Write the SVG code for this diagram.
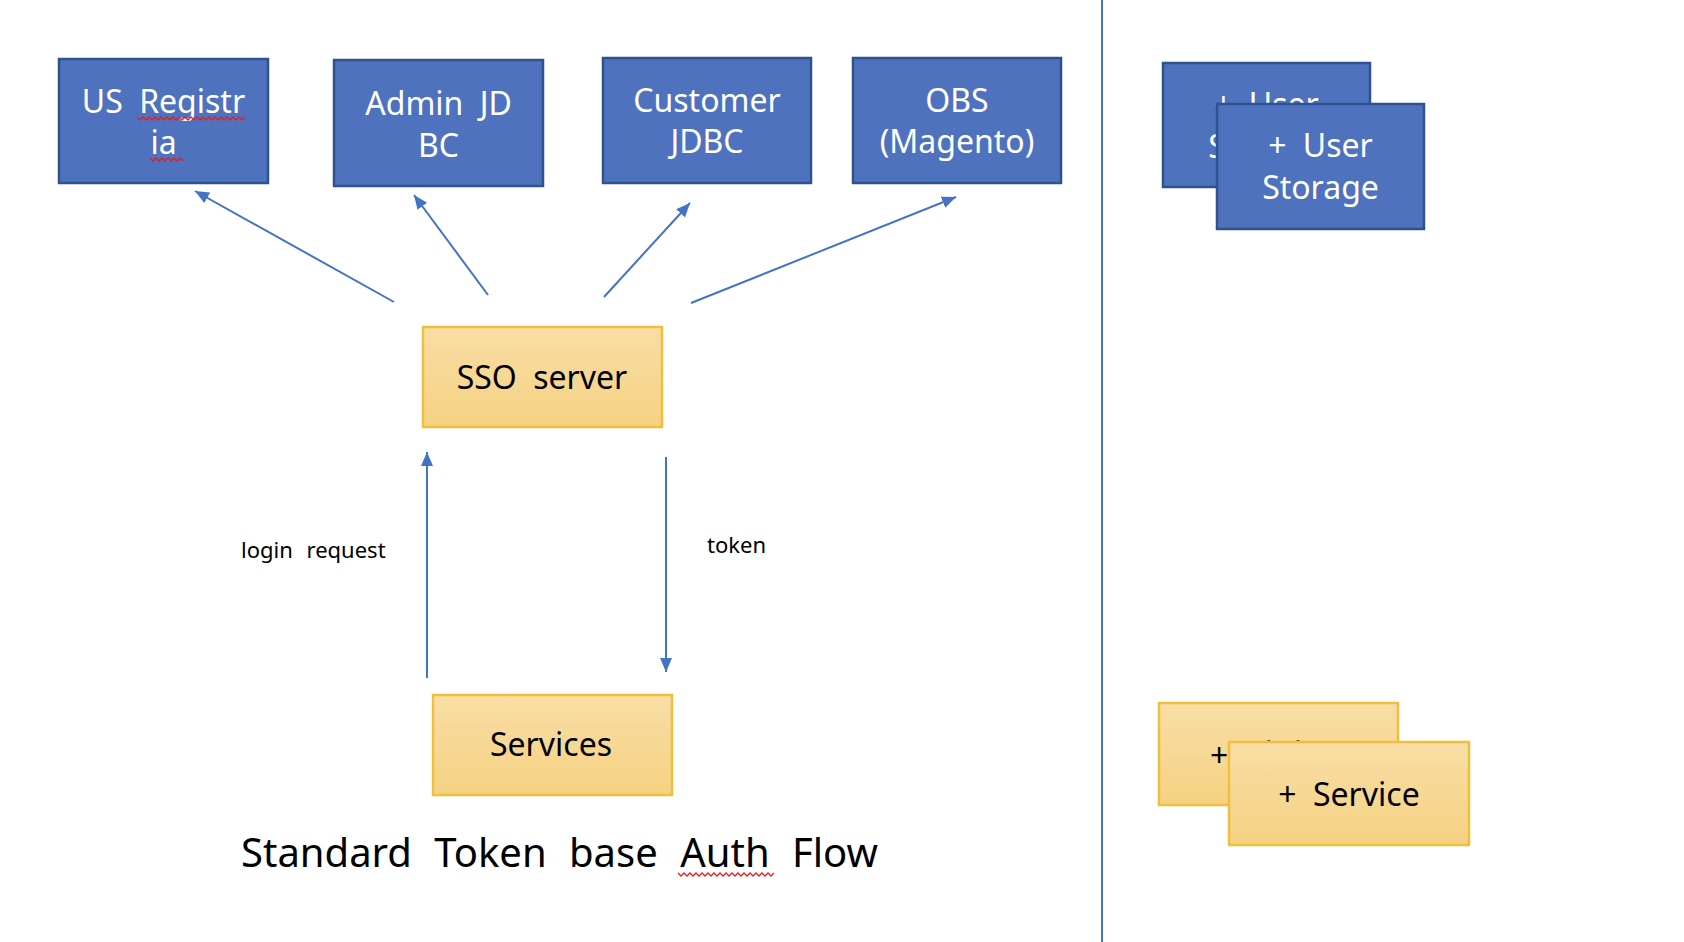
<svg xmlns="http://www.w3.org/2000/svg" width="1684" height="942" viewBox="0 0 1684 942">
<style>
.blue{fill:#4F72BE;stroke:#2F528F;stroke-width:2.5}
.yel{fill:url(#yg);stroke:#F2BF3C;stroke-width:2.5}
.wt{fill:#FFFFFF;font-family:"Noto Sans","Noto Sans CJK KR",sans-serif;font-size:32px;text-anchor:middle;word-spacing:8px}
.bt{fill:#000000;font-family:"Noto Sans","Noto Sans CJK KR",sans-serif;font-size:32px;text-anchor:middle;word-spacing:8px}
.sm{fill:#000000;font-family:"Noto Sans","Noto Sans CJK KR",sans-serif;font-size:22px;word-spacing:8px}
.ttl{fill:#000000;font-family:"Noto Sans","Noto Sans CJK KR",sans-serif;font-size:40px;word-spacing:12px}
.conn{stroke:#4472C4;stroke-width:2;fill:none;marker-end:url(#ah)}
.sq{stroke:#E02020;stroke-width:1.3;fill:none}
</style>
<defs>
<linearGradient id="yg" x1="0" y1="0" x2="0" y2="1">
<stop offset="0" stop-color="#F8DEA6"/>
<stop offset="1" stop-color="#F5D282"/>
</linearGradient>
<marker id="ah" markerUnits="userSpaceOnUse" markerWidth="16" markerHeight="14" refX="14" refY="6" orient="auto">
<path d="M0,0 L14,6 L0,12 Z" fill="#4472C4"/>
</marker>
</defs>
<rect width="1684" height="942" fill="#FFFFFF"/>
<line x1="1102" y1="0" x2="1102" y2="942" stroke="#4472C4" stroke-width="2"/>
<g id="us-registria">
<rect class="blue" x="59" y="59" width="209" height="124"/>
<text class="wt" x="163.5" y="113">US Registr</text>
<text class="wt" x="163.5" y="154">ia</text>
<path class="sq" d="M137,117 l3,3 l3,-3 l3,3 l3,-3 l3,3 l3,-3 l3,3 l3,-3 l3,3 l3,-3 l3,3 l3,-3 l3,3 l3,-3 l3,3 l3,-3 l3,3 l3,-3 l3,3 l3,-3 l3,3 l3,-3 l3,3 l3,-3 l3,3 l3,-3 l3,3 l3,-3 l3,3 l3,-3 l3,3 l3,-3 l3,3 l3,-3 l3,3 l3,-3"/>
<path class="sq" d="M150,158 l3,3 l3,-3 l3,3 l3,-3 l3,3 l3,-3 l3,3 l3,-3 l3,3 l3,-3 l3,3"/>
</g>
<g id="admin-jdbc">
<rect class="blue" x="334" y="60" width="209" height="126"/>
<text class="wt" x="438.5" y="115">Admin JD</text>
<text class="wt" x="438.5" y="157">BC</text>
</g>
<g id="customer-jdbc">
<rect class="blue" x="603" y="58" width="208" height="125"/>
<text class="wt" x="707" y="112">Customer</text>
<text class="wt" x="707" y="153">JDBC</text>
</g>
<g id="obs-magento">
<rect class="blue" x="853" y="58" width="208" height="125"/>
<text class="wt" x="957" y="112">OBS</text>
<text class="wt" x="957" y="153">(Magento)</text>
</g>
<g id="sso-server">
<rect class="yel" x="423" y="327" width="239" height="100"/>
<text class="bt" x="542" y="389">SSO server</text>
</g>
<g id="services">
<rect class="yel" x="433" y="695" width="239" height="100"/>
<text class="bt" x="551" y="756">Services</text>
</g>
<g id="user-storage-back">
<rect class="blue" x="1163" y="63" width="207" height="124"/>
<text class="wt" x="1266.5" y="116">+ User</text>
<text class="wt" x="1266.5" y="158">Storage</text>
</g>
<g id="user-storage-front">
<rect class="blue" x="1217" y="104" width="207" height="125"/>
<text class="wt" x="1320.5" y="157">+ User</text>
<text class="wt" x="1320.5" y="199">Storage</text>
</g>
<g id="service-back">
<rect class="yel" x="1159" y="703" width="239" height="102"/>
<text class="bt" x="1210" y="767" style="text-anchor:start">+ 서비스</text>
</g>
<g id="service-front">
<rect class="yel" x="1229" y="742" width="240" height="103"/>
<text class="bt" x="1349" y="806">+ Service</text>
</g>
<g id="connectors">
<line class="conn" x1="394" y1="302" x2="195" y2="191"/>
<line class="conn" x1="488" y1="295" x2="414" y2="195"/>
<line class="conn" x1="604" y1="297" x2="690" y2="203"/>
<line class="conn" x1="691" y1="303" x2="956" y2="197"/>
<line class="conn" x1="427" y1="678" x2="427" y2="452"/>
<line class="conn" x1="666" y1="457" x2="666" y2="672"/>
</g>
<text class="sm" x="241" y="558">login request</text>
<text class="sm" x="707" y="553">token</text>
<text class="ttl" x="241" y="867">Standard Token base Auth Flow</text>
<path class="sq" d="M678,873 l3,3 l3,-3 l3,3 l3,-3 l3,3 l3,-3 l3,3 l3,-3 l3,3 l3,-3 l3,3 l3,-3 l3,3 l3,-3 l3,3 l3,-3 l3,3 l3,-3 l3,3 l3,-3 l3,3 l3,-3 l3,3 l3,-3 l3,3 l3,-3 l3,3 l3,-3 l3,3 l3,-3 l3,3 l3,-3"/>
</svg>
